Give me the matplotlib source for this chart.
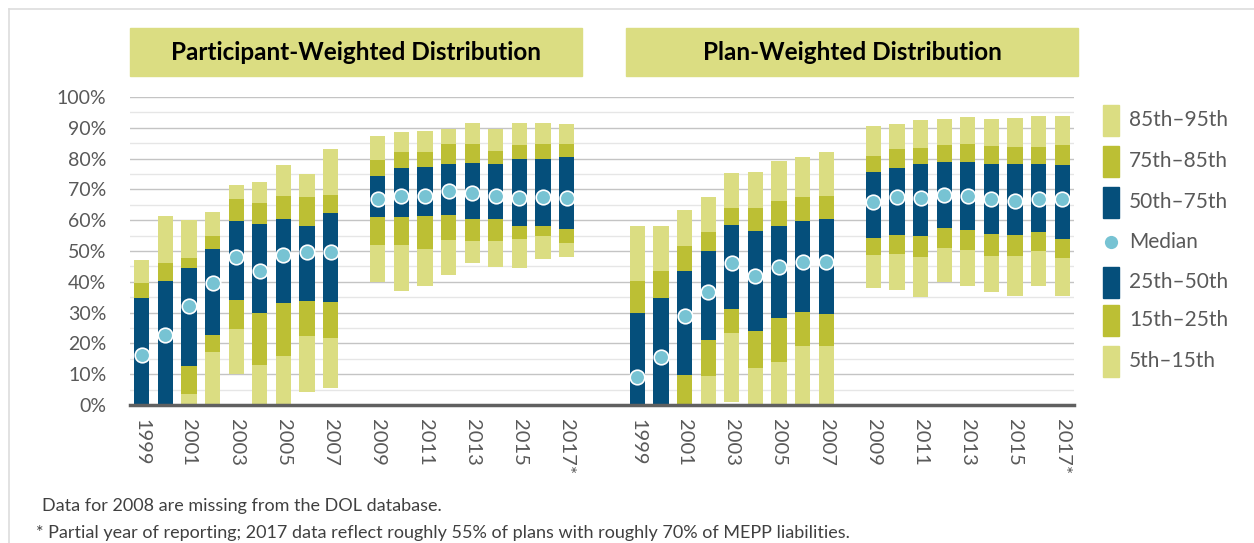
import matplotlib.pyplot as plt
import numpy as np
from matplotlib.patches import Rectangle
from matplotlib.lines import Line2D
from matplotlib.ticker import FuncFormatter, MultipleLocator

plt.rcParams['font.family'] = ['Lato', 'DejaVu Sans']

years = [1999, 2000, 2001, 2002, 2003, 2004, 2005, 2006, 2007,
         2009, 2010, 2011, 2012, 2013, 2014, 2015, 2016, 2017]
tick_years = [1999, 2001, 2003, 2005, 2007, 2009, 2011, 2013, 2015, 2017]
tick_labels = ["1999", "2001", "2003", "2005", "2007", "2009", "2011", "2013", "2015", "2017*"]

# participant-weighted percentiles (%)
pw_p5 = [0, 0, 0, 0, 10.0, 0, 0, 4.1, 5.6, 40.0, 37.1, 38.5, 42.2, 46.2, 44.9, 44.5, 47.4, 48.2]
pw_p15 = [0, 0, 3.6, 17.2, 24.7, 12.9, 15.8, 22.5, 21.8, 52.1, 52.1, 50.8, 53.7, 53.3, 53.4, 54.0, 54.9, 52.5]
pw_p25 = [0, 0, 12.6, 22.8, 34.2, 29.8, 33.0, 33.9, 33.4, 61.2, 61.1, 61.5, 61.7, 60.5, 60.5, 58.2, 58.0, 57.0]
pw_med = [16.3, 22.6, 32.2, 39.6, 48.2, 43.5, 48.7, 49.6, 49.7, 67.0, 67.9, 67.9, 69.5, 68.9, 67.7, 67.1, 67.6, 67.2]
pw_p75 = [34.8, 40.3, 44.6, 50.8, 59.7, 58.9, 60.4, 58.2, 62.4, 74.3, 76.9, 77.4, 78.4, 78.7, 78.4, 79.8, 80.0, 80.6]
pw_p85 = [39.5, 46.2, 47.7, 55.0, 67.0, 65.7, 67.7, 67.4, 68.2, 79.7, 82.3, 82.0, 84.6, 84.9, 82.6, 84.3, 84.6, 84.9]
pw_p95 = [47.2, 61.5, 60.1, 62.7, 71.5, 72.3, 78.0, 75.1, 83.0, 87.3, 88.5, 88.9, 89.6, 91.6, 89.5, 91.4, 91.4, 91.2]

# plan-weighted percentiles (%)
pl_p5 = [0, 0, 0, 0, 1.1, 0, 0, 0, 0, 38.1, 37.5, 35.0, 39.8, 38.5, 36.8, 35.5, 38.6, 35.5]
pl_p15 = [0, 0, 0, 9.5, 23.4, 12.0, 14.0, 19.2, 19.0, 48.8, 49.1, 48.2, 51.1, 50.4, 48.5, 48.4, 50.1, 47.6]
pl_p25 = [0, 0, 9.8, 21.0, 31.2, 24.0, 28.2, 30.3, 29.7, 54.1, 55.1, 54.8, 57.5, 56.9, 55.5, 55.2, 56.1, 53.9]
pl_med = [9.2, 15.6, 28.9, 36.6, 46.1, 42.0, 44.8, 46.5, 46.5, 65.9, 67.5, 67.2, 68.2, 68.0, 66.9, 66.2, 66.9, 66.8]
pl_p75 = [29.9, 34.8, 43.6, 50.0, 58.5, 56.6, 58.2, 59.7, 60.3, 75.8, 77.1, 78.1, 78.9, 79.0, 78.2, 78.2, 78.3, 77.9]
pl_p85 = [40.1, 43.6, 51.7, 56.3, 64.1, 63.8, 66.1, 67.4, 67.7, 80.7, 83.0, 83.6, 84.4, 84.9, 84.1, 83.9, 83.9, 84.4]
pl_p95 = [58.0, 58.0, 63.2, 67.4, 75.2, 75.5, 79.1, 80.6, 82.0, 90.6, 91.1, 92.4, 92.9, 93.4, 92.7, 93.3, 93.8, 93.8]

light = "#dbdd82"
olive = "#bcbf34"
navy = "#054f7b"
dot = "#77c3d3"
gray_txt = "#595959"

W, H = 1254, 543
fig = plt.figure(figsize=(W / 100, H / 100), dpi=100)
ax = fig.add_axes([130 / W, 1 - 405 / H, 944 / W, 308 / H])

def draw_panel(offset, p5, p15, p25, med, p75, p85, p95):
    x = np.array([y - 1999 for y in years]) + offset
    p5, p15, p25, med, p75, p85, p95 = [np.array(a) / 100 for a in (p5, p15, p25, med, p75, p85, p95)]
    bw = 0.65
    ax.bar(x, p15 - p5, bottom=p5, width=bw, color=light, zorder=2)
    ax.bar(x, p25 - p15, bottom=p15, width=bw, color=olive, zorder=2)
    ax.bar(x, med - p25, bottom=p25, width=bw, color=navy, zorder=2)
    ax.bar(x, p75 - med, bottom=med, width=bw, color=navy, zorder=2)
    ax.bar(x, p85 - p75, bottom=p75, width=bw, color=olive, zorder=2)
    ax.bar(x, p95 - p85, bottom=p85, width=bw, color=light, zorder=2)
    ax.scatter(x, med, s=110, color=dot, edgecolor="white", linewidth=1.2, zorder=4)

draw_panel(0, pw_p5, pw_p15, pw_p25, pw_med, pw_p75, pw_p85, pw_p95)
draw_panel(21, pl_p5, pl_p15, pl_p25, pl_med, pl_p75, pl_p85, pl_p95)

ax.set_xlim(-0.5, 39.5)
ax.set_ylim(0, 1.0)
ax.yaxis.set_major_locator(MultipleLocator(0.1))
ax.yaxis.set_minor_locator(MultipleLocator(0.05))
ax.yaxis.set_major_formatter(FuncFormatter(lambda v, p: f"{v * 100:.0f}%"))
ax.grid(axis="y", which="major", color="#c4c4c4", linewidth=1.0, zorder=0)
ax.grid(axis="y", which="minor", color="#e6e6e6", linewidth=1.0, zorder=0)
ax.set_axisbelow(True)
for s in ("top", "right", "left"):
    ax.spines[s].set_visible(False)
ax.spines["bottom"].set_color("#606060")
ax.spines["bottom"].set_linewidth(2.5)
ax.spines["bottom"].set_zorder(5)
ax.tick_params(axis="y", which="both", length=0, labelsize=14, labelcolor=gray_txt, pad=17)

xt = [y - 1999 for y in tick_years] + [y - 1999 + 21 for y in tick_years]
ax.set_xticks(xt)
ax.set_xticklabels(tick_labels * 2, rotation=270, fontsize=14.5, color=gray_txt, va="top", ha="center")
ax.tick_params(axis="x", length=0, pad=10)

# title boxes
for x0, x1, label in [(130, 582, "Participant-Weighted Distribution"), (626, 1078, "Plan-Weighted Distribution")]:
    fig.patches.append(Rectangle((x0 / W, 1 - 76 / H), (x1 - x0) / W, 48 / H,
                                 transform=fig.transFigure, color=light, zorder=1))
    fig.text((x0 + x1) / 2 / W, 1 - 53 / H, label, ha="center", va="center",
             fontsize=17.5, fontweight="bold", color="black")

# legend
legend_rows = [("85th\u201395th", light, 120), ("75th\u201385th", olive, 161), ("50th\u201375th", navy, 202),
               ("Median", None, 242), ("25th\u201350th", navy, 282), ("15th\u201325th", olive, 320),
               ("5th\u201315th", light, 361)]
for label, col, yc in legend_rows:
    if col is None:
        fig.lines.append(Line2D([1111 / W], [1 - yc / H], transform=fig.transFigure, marker="o",
                                markersize=9.5, color=dot, markeredgewidth=0))
    else:
        fig.patches.append(Rectangle((1103 / W, 1 - (yc + 15.5) / H), 16 / W, 31 / H,
                                     transform=fig.transFigure, color=col, zorder=2))
    fig.text(1129 / W, 1 - yc / H, label, ha="left", va="center", fontsize=15, color=gray_txt)

# footnotes
fig.text(42 / W, 1 - 506 / H, "Data for 2008 are missing from the DOL database.",
         ha="left", va="center", fontsize=13, color="#404040")
fig.text(36 / W, 1 - 533 / H,
         "* Partial year of reporting; 2017 data reflect roughly 55% of plans with roughly 70% of MEPP liabilities.",
         ha="left", va="center", fontsize=13, color="#404040")

# outer frame
fig.lines.append(Line2D([9 / W, 9 / W], [0, 1 - 9 / H], transform=fig.transFigure, color="#dddddd", linewidth=1.2))
fig.lines.append(Line2D([9 / W, 1], [1 - 9 / H, 1 - 9 / H], transform=fig.transFigure, color="#dddddd", linewidth=1.2))

fig.savefig("out.png", dpi=100)
